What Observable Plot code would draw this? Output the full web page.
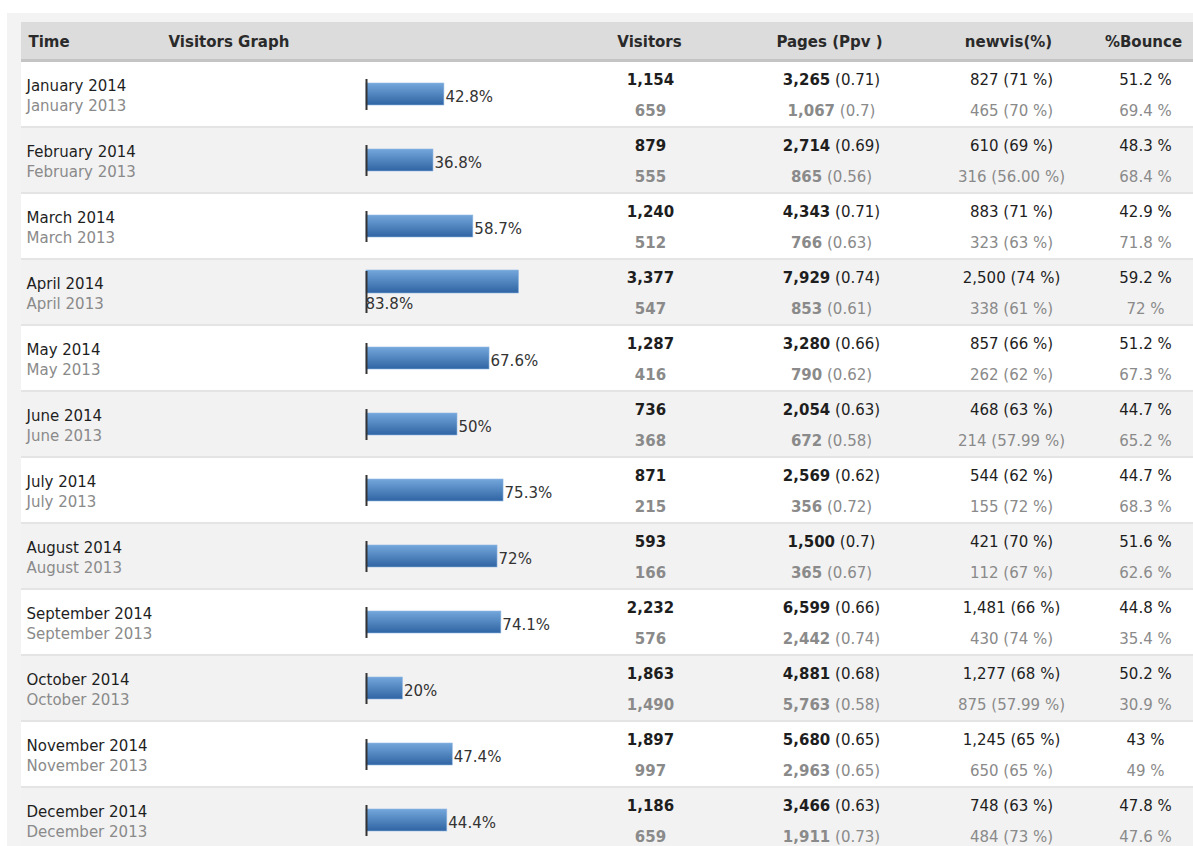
<!DOCTYPE html>
<html>
<head>
<meta charset="utf-8">
<script src="https://cdn.jsdelivr.net/npm/d3@7"></script>
<script src="https://cdn.jsdelivr.net/npm/@observablehq/plot@0.6"></script>
<style>
  html, body { margin: 0; padding: 0; background: #ffffff; }
  #wrap { position: relative; width: 1193px; height: 846px; overflow: hidden; }
  #outer { position: absolute; left: 7px; top: 13px; right: 0; bottom: 0; background: #f3f3f3; }
  #head { position: absolute; left: 21px; top: 22px; width: 1172px; height: 37px; background: #dcdcdc; border-bottom: 3px solid #c4c4c4; }
  #chart { position: absolute; left: 0; top: 0; }
</style>
</head>
<body>
<div id="wrap"><div id="outer"></div><div id="head"></div><div id="chart"></div></div>
<script>
// ---- data ----
const months = ["January","February","March","April","May","June","July","August","September","October","November","December"];
const visitors2014 = [1154, 879, 1240, 3377, 1287, 736, 871, 593, 2232, 1863, 1897, 1186];
const visitors2013 = [659, 555, 512, 547, 416, 368, 215, 166, 576, 1490, 997, 659];
const graphPct = [42.8, 36.8, 58.7, 83.8, 67.6, 50, 75.3, 72, 74.1, 20, 47.4, 44.4];
const pages2014 = [3265, 2714, 4343, 7929, 3280, 2054, 2569, 1500, 6599, 4881, 5680, 3466];
const ppv2014 = ["0.71","0.69","0.71","0.74","0.66","0.63","0.62","0.7","0.66","0.68","0.65","0.63"];
const pages2013 = [1067, 865, 766, 853, 790, 672, 356, 365, 2442, 5763, 2963, 1911];
const ppv2013 = ["0.7","0.56","0.63","0.61","0.62","0.58","0.72","0.67","0.74","0.58","0.65","0.73"];
const newvis2014 = [827, 610, 883, 2500, 857, 468, 544, 421, 1481, 1277, 1245, 748];
const newvisPct2014 = ["71","69","71","74","66","63","62","70","66","68","65","63"];
const newvis2013 = [465, 316, 323, 338, 262, 214, 155, 112, 430, 875, 650, 484];
const newvisPct2013 = ["70","56.00","63","61","62","57.99","72","67","74","57.99","65","73"];
const bounce2014 = ["51.2","48.3","42.9","59.2","51.2","44.7","44.7","51.6","44.8","50.2","43","47.8"];
const bounce2013 = ["69.4","68.4","71.8","72","67.3","65.2","68.3","62.6","35.4","30.9","49","47.6"];
const headers = ["Time","Visitors Graph","Visitors","Pages (Ppv )","newvis(%)","%Bounce"];

// ---- layout (styles / offsets from the frame's left edge) ----
const headerDx = [7, 147, 628, 808, 987, 1122];
const headerAnchor = ["start","start","middle","middle","middle","middle"];
const colDx = {time: 5, visitors: 629, pages: 810, newvis: 990, bounce: 1124};
const C14 = "#1e1e1e", C13 = "#8a8a8a";
const FONT = "DejaVu Sans";

const fmt = d3.format(",");
const rows = months.map((m, i) => ({
  i, key: m, month: m,
  pct: graphPct[i],
  wrap: graphPct[i] * 1.82 + 44 > 196,
  v14: visitors2014[i], v13: visitors2013[i],
  p14: fmt(pages2014[i]) + " (" + ppv2014[i] + ")",
  p13: fmt(pages2013[i]) + " (" + ppv2013[i] + ")",
  n14: fmt(newvis2014[i]) + " (" + newvisPct2014[i] + " %)",
  n13: fmt(newvis2013[i]) + " (" + newvisPct2013[i] + " %)",
  b14: bounce2014[i] + " %",
  b13: bounce2013[i] + " %"
}));
const flat = rows.filter(d => !d.wrap);
const wrapped = rows.filter(d => d.wrap);

const defs = () => {
  const g = d3.create("svg:defs");
  const lg = g.append("linearGradient").attr("id", "barGrad").attr("x1", 0).attr("y1", 0).attr("x2", 0).attr("y2", 1);
  lg.append("stop").attr("offset", "0%").attr("stop-color", "#74a7db");
  lg.append("stop").attr("offset", "100%").attr("stop-color", "#2f64a3");
  return g.node();
};

const txt = (data, opts) => Plot.text(data, {y: "key", frameAnchor: "left", textAnchor: "middle", ...opts});

const chart = Plot.plot({
  width: 1193,
  height: 846,
  marginTop: 62, marginLeft: 21, marginRight: 0, marginBottom: 0,
  style: {background: "transparent", fontFamily: FONT, fontSize: "15px"},
  x: {domain: [0, 100], range: [366, 548], axis: null},
  y: {domain: months, range: [62, 62 + 66 * 12], padding: 0, axis: null},
  marks: [
    defs,
    ...headers.map((h, k) => Plot.text([h], {text: d => d, frameAnchor: "top-left", dx: headerDx[k], dy: -26,
      textAnchor: headerAnchor[k], fontWeight: "bold", fill: "#2a2a2a", fontSize: 15})),
    Plot.cell(rows, {y: "key", fill: d => d.i % 2 ? "#f2f2f2" : "#ffffff", insetBottom: 2}),
    Plot.cell(rows, {y: "key", fill: "#e4e4e4", insetTop: 64}),
    Plot.barX(flat, {x: "pct", y: "key", fill: "url(#barGrad)", stroke: "#8fb6e0", strokeWidth: 0.6, insetTop: 21, insetBottom: 23}),
    Plot.barX(wrapped, {x: "pct", y: "key", fill: "url(#barGrad)", stroke: "#8fb6e0", strokeWidth: 0.6, insetTop: 10, insetBottom: 33}),
    Plot.tickX(flat, {x: d => 0, y: "key", stroke: "#333", strokeWidth: 2, insetTop: 17, insetBottom: 18}),
    Plot.tickX(wrapped, {x: d => 0, y: "key", stroke: "#333", strokeWidth: 2, insetTop: 11, insetBottom: 13}),
    Plot.text(flat, {x: "pct", y: "key", text: d => d.pct + "%", textAnchor: "start", dx: 1, dy: 2, fill: "#333"}),
    Plot.text(wrapped, {x: d => 0, y: "key", text: d => d.pct + "%", textAnchor: "start", dx: -1, dy: 11, fill: "#333"}),
    txt(rows, {text: d => d.month + " 2014", textAnchor: "start", dx: colDx.time, dy: -9, fill: C14}),
    txt(rows, {text: d => d.month + " 2013", textAnchor: "start", dx: colDx.time, dy: 11, fill: C13}),
    txt(rows, {text: d => fmt(d.v14), dx: colDx.visitors, dy: -15, fontWeight: "bold", fill: C14}),
    txt(rows, {text: d => fmt(d.v13), dx: colDx.visitors, dy: 16, fontWeight: "bold", fill: C13}),
    txt(rows, {text: "p14", dx: colDx.pages, dy: -15, fill: C14, ariaDescription: "pagescol"}),
    txt(rows, {text: "p13", dx: colDx.pages, dy: 16, fill: C13, ariaDescription: "pagescol"}),
    txt(rows, {text: "n14", dx: colDx.newvis, dy: -15, fill: C14}),
    txt(rows, {text: "n13", dx: colDx.newvis, dy: 16, fill: C13}),
    txt(rows, {text: "b14", dx: colDx.bounce, dy: -15, fill: C14}),
    txt(rows, {text: "b13", dx: colDx.bounce, dy: 16, fill: C13})
  ]
});

// bold page count, normal-weight ppv in parentheses
d3.select(chart).selectAll('g[aria-description="pagescol"] text').each(function () {
  const t = this.textContent;
  const k = t.indexOf(" ");
  const s = d3.select(this);
  s.text(null);
  s.append("tspan").attr("font-weight", "bold").text(t.slice(0, k));
  s.append("tspan").text(t.slice(k));
});

document.getElementById("chart").appendChild(chart);
</script>
</body>
</html>
